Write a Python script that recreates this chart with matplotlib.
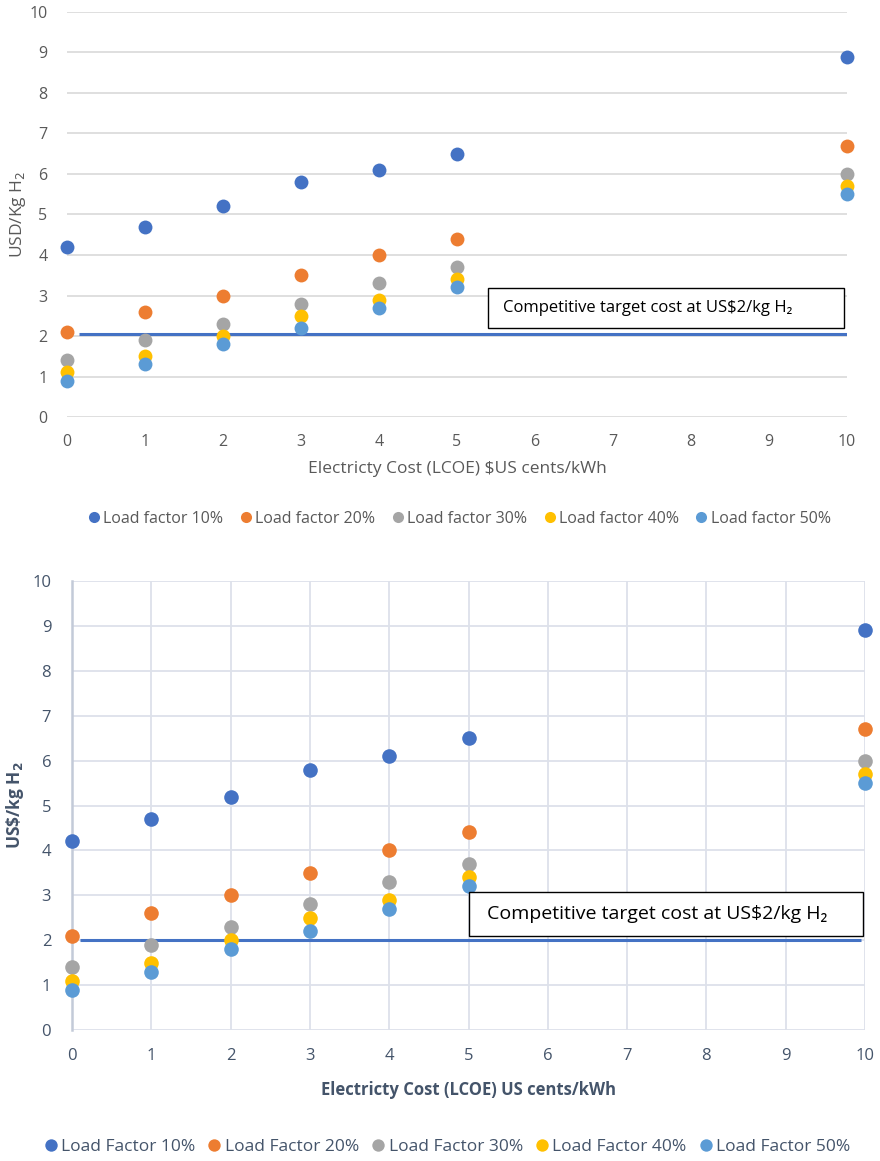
"""
LCOH vs electricity cost, two chart versions
"""

import matplotlib.pyplot as plt
from matplotlib.patches import Rectangle

plt.rcParams['font.family'] = ['Open Sans', 'DejaVu Sans']

COST = [0, 1, 2, 3, 4, 5, 10]
LF10 = [4.2, 4.7, 5.2, 5.8, 6.1, 6.5, 8.9]
LF20 = [2.1, 2.6, 3.0, 3.5, 4.0, 4.4, 6.7]
LF30 = [1.4, 1.9, 2.3, 2.8, 3.3, 3.7, 6.0]
LF40 = [1.1, 1.5, 2.0, 2.5, 2.9, 3.4, 5.7]
LF50 = [0.9, 1.3, 1.8, 2.2, 2.7, 3.2, 5.5]
SERIES = [LF10, LF20, LF30, LF40, LF50]
LF_PCT = [10, 20, 30, 40, 50]
COLORS = ['#4472C4', '#ED7D31', '#A5A5A5', '#FFC000', '#5B9BD5']
TARGET_TOP = 2.05
TARGET_BOT = 2.0
XTICKS = list(range(11))
YTICKS = list(range(11))

fig = plt.figure(figsize=(8.8, 11.61), dpi=100)

# ---------- top panel ----------
gray = '#595959'
ax = fig.add_axes([0.0761, 0.6408, 0.8864, 0.3489])
for vals, c, pct in zip(SERIES, COLORS, LF_PCT):
    ax.plot(COST, vals, 'o', ms=10, color=c, mec='none', clip_on=False, zorder=3,
            label=f'Load factor {pct}%')
ax.hlines(TARGET_TOP, 0.15, 10, color='#4472C4', lw=2.2, zorder=2)
ax.set_xlim(0, 10)
ax.set_ylim(0, 10)
ax.set_xticks(XTICKS)
ax.set_yticks(YTICKS)
ax.grid(axis='y', color='#d9d9d9', lw=1.2)
ax.set_axisbelow(True)
for s in ax.spines.values():
    s.set_visible(False)
ax.tick_params(length=0, labelsize=11.5, labelcolor=gray)
ax.tick_params(axis='y', pad=14)
ax.tick_params(axis='x', pad=12)
ax.set_xlabel('Electricty Cost (LCOE) $US cents/kWh', fontsize=12.5, color=gray, labelpad=8)
ax.set_ylabel('USD/Kg H$_2$', fontsize=12.5, color=gray, labelpad=4)
ax.yaxis.set_label_coords(-0.05, 0.5)
fig.legend(*ax.get_legend_handles_labels(), loc='center', bbox_to_anchor=(0.52, 0.553),
           ncol=5, frameon=False, fontsize=11.5, labelcolor=gray, handletextpad=0.0,
           columnspacing=0.8, markerscale=0.8, handlelength=1.2)

fig.add_artist(Rectangle((0.5545, 0.7175), 0.4045, 0.0345, transform=fig.transFigure,
                         facecolor='white', edgecolor='black', lw=1.0, zorder=5))
fig.text(0.5715, 0.7348, 'Competitive target cost at US$2/kg H₂', fontsize=12,
         va='center', ha='left', color='black', zorder=6)

# ---------- bottom panel ----------
slate = '#44546A'
bx = fig.add_axes([0.0818, 0.1128, 0.9012, 0.3868])
for vals, c, pct in zip(SERIES, COLORS, LF_PCT):
    bx.plot(COST, vals, 'o', ms=10.5, color=c, mec='none', clip_on=False, zorder=3,
            label=f'Load Factor {pct}%')
bx.hlines(TARGET_BOT, 0.1, 9.95, color='#4472C4', lw=2.2, zorder=2)
bx.set_xlim(0, 10)
bx.set_ylim(0, 10)
bx.set_xticks(XTICKS)
bx.set_yticks(YTICKS)
bx.grid(color='#dde1ea', lw=1.3)
bx.set_axisbelow(True)
for s in bx.spines.values():
    s.set_visible(False)
bx.spines['left'].set_visible(True)
bx.spines['left'].set_color('#c3cad8')
bx.spines['left'].set_linewidth(1.8)
bx.tick_params(length=0, labelsize=12, labelcolor=slate)
bx.tick_params(axis='y', pad=15)
bx.tick_params(axis='x', pad=13)
bx.set_xlabel('Electricty Cost (LCOE) US cents/kWh', fontsize=12, color=slate,
              fontweight='bold', labelpad=12)
bx.set_ylabel('US\\$/kg H$_\\mathbf{2}$', fontsize=12.5, color=slate, fontweight='bold')
bx.yaxis.set_label_coords(-0.058, 0.5)
fig.legend(*bx.get_legend_handles_labels(), loc='center', bbox_to_anchor=(0.506, 0.012),
           ncol=5, frameon=False, fontsize=12.5, labelcolor=slate, handletextpad=0.0,
           columnspacing=0.5, markerscale=0.85, handlelength=1.2)

fig.add_artist(Rectangle((0.533, 0.1938), 0.4477, 0.0379, transform=fig.transFigure,
                         facecolor='white', edgecolor='black', lw=1.0, zorder=5))
fig.text(0.5534, 0.2127, 'Competitive target cost at US$2/kg H₂', fontsize=14,
         va='center', ha='left', color='black', zorder=6)

fig.savefig('out.png', dpi=100)
